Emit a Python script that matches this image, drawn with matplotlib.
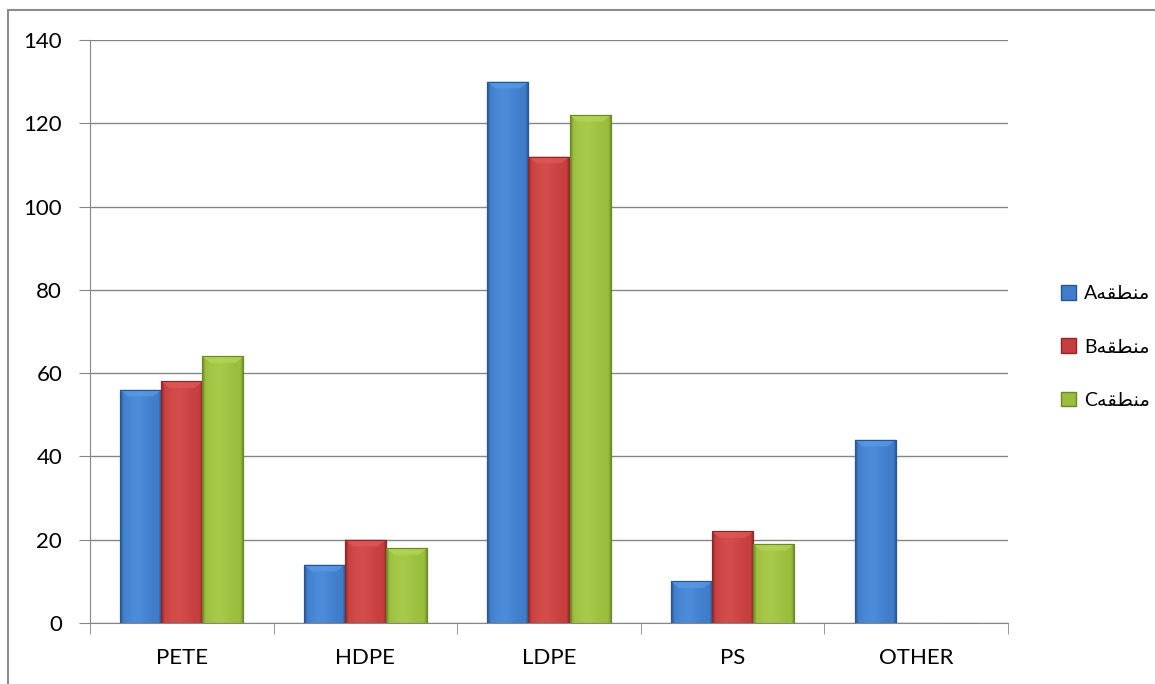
import numpy as np
import matplotlib.pyplot as plt
from matplotlib.patches import Patch, Rectangle
from matplotlib.colors import to_rgb

plt.rcParams['font.family'] = ['Lato', 'DejaVu Sans']

categories = ['PETE', 'HDPE', 'LDPE', 'PS', 'OTHER']
zone_a = [56, 14, 130, 10, 44]
zone_b = [58, 20, 112, 22, 0]
zone_c = [64, 18, 122, 19, 0]

# Arabic "منطقه" written in presentation forms, visual order (matplotlib does no shaping)
zone_word = '\uFEEA\uFED8\uFEC4\uFEE8\uFEE3'
labels = ['A' + zone_word, 'B' + zone_word, 'C' + zone_word]

colors = ['#3F7DCB', '#C73E3E', '#9ABD3C']
darks = ['#27558F', '#8E2626', '#6A8826']
lights = ['#5B9BE6', '#E05A5A', '#B5D658']

W, H = 1155, 684
fig = plt.figure(figsize=(W / 100, H / 100), dpi=100)
fig.patches.append(Rectangle((8 / W, -0.1), 1.2, (H - 10) / H + 0.1,
                             transform=fig.transFigure, fill=False,
                             edgecolor='#8C8C8C', linewidth=1.5))

ax = fig.add_axes([90 / W, 61 / H, 918 / W, 583 / H])

x = np.arange(len(categories))
bw = 0.224


def shade(c, d, l, n=64):
    # horizontal gradient: dark rims, lighter body
    t = np.linspace(0, 1, n)
    c, d, l = np.array(to_rgb(c)), np.array(to_rgb(d)), np.array(to_rgb(l))
    prof = np.exp(-((t - 0.4) / 0.28) ** 2)
    rgb = c[None] + (l - c)[None] * prof[:, None] * 0.5
    rim = np.clip(1 - np.minimum(t, 1 - t) / 0.08, 0, 1)
    rgb = rgb * (1 - rim[:, None]) + d[None] * rim[:, None]
    return rgb[None]


for k, vals in enumerate([zone_a, zone_b, zone_c]):
    bars = ax.bar(x + (k - 1) * bw, vals, bw, color=colors[k],
                  edgecolor=darks[k], linewidth=0.8, zorder=3)
    for b in bars:
        if b.get_height() <= 0:
            continue
        x0, h = b.get_x(), b.get_height()
        im = ax.imshow(shade(colors[k], darks[k], lights[k]), aspect='auto',
                       extent=(x0, x0 + bw, 0, h), zorder=3.5)
        im.set_clip_path(b)
        # top bevel
        bev = min(1.6, h * 0.3)
        ax.fill([x0, x0 + bw, x0 + bw * 0.8, x0 + bw * 0.2],
                [h, h, h - bev, h - bev], color=lights[k], alpha=0.7,
                lw=0, zorder=4)
        ax.add_patch(Rectangle((x0, 0), bw, h, fill=False,
                               edgecolor=darks[k], linewidth=0.8, zorder=4.5))

ax.set_xlim(-0.5, len(categories) - 0.5)
ax.set_ylim(0, 140)
ax.set_yticks(np.arange(0, 141, 20))
ax.set_xticks(x)
ax.set_xticklabels(categories)
ax.set_xticks(np.arange(-0.5, len(categories), 1), minor=True)
ax.tick_params(axis='x', which='major', length=0, pad=18, labelsize=16)
ax.tick_params(axis='x', which='minor', length=8, color='#868686')
ax.tick_params(axis='y', length=8, color='#868686', pad=12, labelsize=16)
ax.grid(axis='y', color='#868686', linewidth=1, zorder=0)
ax.set_axisbelow(True)
for s in ['top', 'right']:
    ax.spines[s].set_visible(False)
for s in ['left', 'bottom']:
    ax.spines[s].set_color('#868686')

handles = [Patch(facecolor=colors[k], edgecolor=darks[k]) for k in range(3)]
fig.legend(handles, labels, loc='center left',
           bbox_to_anchor=(1043 / W, 1 - 347 / H), frameon=False,
           fontsize=14, handlelength=0.8, handleheight=0.8,
           handletextpad=0.4, labelspacing=1.85)

fig.savefig('out.png', dpi=100)
